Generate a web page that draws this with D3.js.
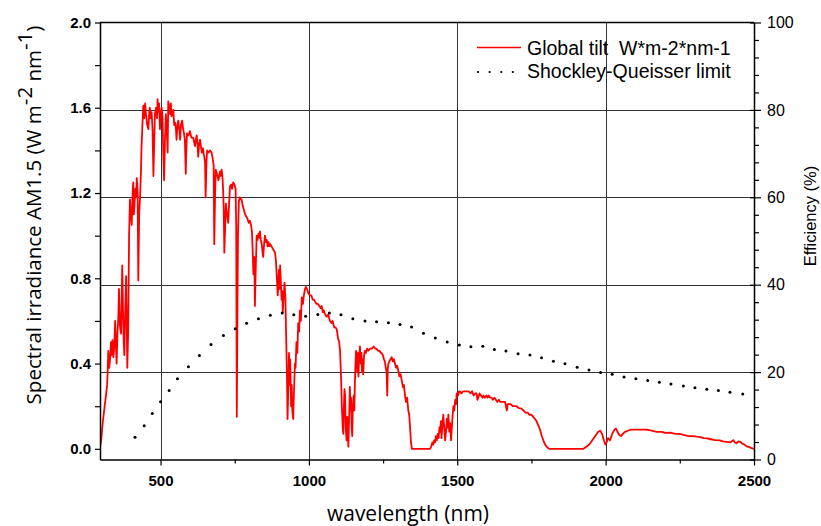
<!DOCTYPE html>
<html>
<head>
<meta charset="utf-8">
<script src="https://cdn.jsdelivr.net/npm/d3@7"></script>
<style>
  body { margin: 0; background: #fff; }
  svg { display: block; }
  .tick text { font-family: "Liberation Sans", Arial, sans-serif; }
</style>
</head>
<body>
<div id="chart"></div>
<script>
// spectral irradiance, global tilt AM1.5 (wavelength nm, W m-2 nm-1)
var irrWl = [
  295, 300, 305, 310, 316, 320, 322, 324, 327, 330,
  333, 335, 338, 341, 344, 347, 350, 352, 355, 358,
  360, 363, 367, 369, 371, 374, 376, 378, 381, 384,
  386, 388, 391, 394, 397, 400, 403, 406, 408, 410,
  412, 415, 418, 420, 423, 425, 428, 431, 434, 436,
  439, 442, 445, 448, 451, 455, 459, 462, 464, 467,
  470, 473, 476, 479, 481, 485, 488, 490, 493, 495,
  498, 501, 504, 507, 509, 512, 515, 518, 521, 524,
  526, 530, 532, 535, 537, 540, 543, 546, 549, 552,
  554, 557, 560, 563, 566, 569, 573, 576, 579, 582,
  585, 587, 589, 594, 599, 604, 610, 613, 616, 619,
  622, 625, 627, 630, 633, 636, 639, 643, 646, 650,
  652, 655, 657, 662, 667, 672, 676, 679, 681, 684,
  686, 690, 695, 700, 703, 706, 709, 711, 713, 715,
  718, 720, 724, 728, 731, 734, 738, 741, 745, 749,
  753, 755, 757, 759, 761, 764, 767, 770, 773, 777,
  781, 785, 789, 793, 797, 801, 805, 808, 810, 813,
  816, 818, 821, 824, 827, 830, 833, 835, 838, 841,
  844, 846, 849, 852, 855, 858, 861, 864, 867, 870,
  874, 878, 882, 886, 889, 892, 895, 897, 899, 901,
  903, 905, 908, 910, 912, 915, 918, 921, 923, 926,
  928, 930, 933, 935, 937, 940, 942, 944, 947, 950,
  953, 955, 958, 961, 964, 967, 970, 973, 976, 980,
  983, 987, 990, 994, 998, 1003, 1008, 1013, 1017, 1021,
  1026, 1030, 1035, 1040, 1043, 1047, 1050, 1055, 1060, 1065,
  1071, 1076, 1080, 1085, 1090, 1094, 1098, 1102, 1105, 1108,
  1111, 1114, 1116, 1118, 1120, 1122, 1124, 1127, 1129, 1131,
  1133, 1135, 1138, 1140, 1142, 1144, 1146, 1148, 1151, 1153,
  1155, 1157, 1159, 1161, 1163, 1165, 1167, 1169, 1172, 1175,
  1177, 1179, 1181, 1183, 1186, 1189, 1192, 1196, 1200, 1206,
  1212, 1218, 1224, 1228, 1233, 1238, 1242, 1245, 1249, 1253,
  1256, 1259, 1262, 1264, 1266, 1268, 1271, 1275, 1279, 1283,
  1287, 1290, 1294, 1297, 1301, 1305, 1309, 1313, 1317, 1320,
  1324, 1327, 1331, 1335, 1338, 1341, 1344, 1347, 1380, 1408,
  1412, 1416, 1419, 1422, 1425, 1428, 1431, 1434, 1437, 1440,
  1442, 1445, 1447, 1450, 1453, 1456, 1459, 1462, 1465, 1468,
  1470, 1473, 1476, 1479, 1481, 1484, 1487, 1490, 1493, 1496,
  1498, 1503, 1506, 1509, 1514, 1520, 1526, 1532, 1538, 1545,
  1550, 1555, 1560, 1565, 1568, 1571, 1575, 1580, 1585, 1588,
  1593, 1598, 1602, 1606, 1610, 1616, 1620, 1625, 1630, 1635,
  1640, 1645, 1650, 1655, 1661, 1664, 1667, 1670, 1675, 1680,
  1687, 1693, 1700, 1708, 1715, 1723, 1730, 1737, 1743, 1750,
  1756, 1762, 1767, 1773, 1779, 1785, 1790, 1796, 1801, 1810,
  1870, 1925, 1935, 1945, 1955, 1965, 1975, 1982, 1988, 1994,
  1999, 2003, 2008, 2015, 2022, 2030, 2035, 2040, 2046, 2052,
  2058, 2065, 2075, 2085, 2100, 2120, 2138, 2155, 2172, 2190,
  2200, 2217, 2235, 2250, 2262, 2280, 2295, 2307, 2320, 2330,
  2341, 2355, 2369, 2385, 2395, 2408, 2420, 2430, 2436, 2441,
  2447, 2453, 2460, 2468, 2475, 2485, 2492, 2500];
var irrVal = [
  0.00, 0.04, 0.12, 0.18, 0.25, 0.30, 0.37, 0.46, 0.38, 0.42,
  0.50, 0.44, 0.51, 0.43, 0.48, 0.60, 0.47, 0.40, 0.55, 0.62,
  0.75, 0.58, 0.54, 0.70, 0.86, 0.62, 0.50, 0.44, 0.65, 0.81,
  0.60, 0.38, 0.55, 1.00, 1.17, 1.10, 1.05, 1.20, 1.25, 1.10,
  1.14, 1.22, 1.18, 1.27, 1.20, 0.79, 1.10, 1.18, 1.30, 1.42,
  1.52, 1.61, 1.55, 1.62, 1.57, 1.52, 1.50, 1.58, 1.60, 1.55,
  1.58, 1.50, 1.28, 1.45, 1.57, 1.60, 1.55, 1.64, 1.58, 1.62,
  1.50, 1.58, 1.60, 1.55, 1.40, 1.26, 1.45, 1.57, 1.50, 1.39,
  1.63, 1.60, 1.57, 1.62, 1.56, 1.58, 1.59, 1.52, 1.53, 1.50,
  1.45, 1.52, 1.54, 1.50, 1.45, 1.52, 1.54, 1.50, 1.48, 1.45,
  1.29, 1.40, 1.48, 1.47, 1.49, 1.46, 1.46, 1.44, 1.42, 1.45,
  1.47, 1.42, 1.37, 1.43, 1.45, 1.42, 1.39, 1.41, 1.38, 1.35,
  1.18, 1.35, 1.40, 1.39, 1.40, 1.39, 1.36, 1.33, 0.96, 1.20,
  1.31, 1.29, 1.26, 1.30, 1.28, 1.31, 1.27, 1.21, 1.12, 0.92,
  1.05, 1.15, 1.10, 1.06, 1.15, 1.23, 1.24, 1.22, 1.25, 1.24,
  1.22, 1.05, 0.15, 0.60, 1.00, 1.16, 1.18, 1.17, 1.17, 1.14,
  1.12, 1.10, 1.09, 1.08, 1.06, 1.07, 1.05, 1.02, 0.95, 0.82,
  0.90, 0.67, 0.85, 1.00, 0.98, 1.01, 0.99, 1.02, 0.98, 0.96,
  0.92, 0.90, 0.96, 1.00, 0.97, 0.98, 0.95, 0.97, 0.95, 0.96,
  0.95, 0.94, 0.93, 0.92, 0.88, 0.80, 0.72, 0.78, 0.84, 0.75,
  0.86, 0.80, 0.70, 0.74, 0.64, 0.72, 0.78, 0.70, 0.55, 0.35,
  0.14, 0.25, 0.45, 0.30, 0.42, 0.20, 0.30, 0.18, 0.14, 0.28,
  0.40, 0.38, 0.50, 0.45, 0.59, 0.55, 0.65, 0.60, 0.71, 0.68,
  0.72, 0.75, 0.76, 0.75, 0.73, 0.72, 0.72, 0.70, 0.70, 0.69,
  0.68, 0.68, 0.67, 0.66, 0.67, 0.64, 0.65, 0.63, 0.62, 0.63,
  0.60, 0.59, 0.60, 0.57, 0.57, 0.56, 0.52, 0.50, 0.46, 0.35,
  0.20, 0.10, 0.07, 0.20, 0.28, 0.25, 0.10, 0.04, 0.15, 0.08,
  0.01, 0.12, 0.29, 0.18, 0.24, 0.10, 0.06, 0.20, 0.25, 0.18,
  0.31, 0.40, 0.46, 0.42, 0.36, 0.45, 0.34, 0.42, 0.48, 0.40,
  0.45, 0.36, 0.42, 0.35, 0.44, 0.46, 0.45, 0.47, 0.46, 0.47,
  0.47, 0.48, 0.47, 0.47, 0.46, 0.46, 0.45, 0.45, 0.44, 0.42,
  0.41, 0.38, 0.36, 0.25, 0.38, 0.40, 0.41, 0.42, 0.43, 0.41,
  0.42, 0.40, 0.38, 0.39, 0.37, 0.34, 0.35, 0.32, 0.29, 0.30,
  0.25, 0.22, 0.24, 0.18, 0.16, 0.10, 0.03, 0.00, 0.00, 0.00,
  0.01, 0.03, 0.02, 0.04, 0.03, 0.06, 0.04, 0.07, 0.05, 0.10,
  0.08, 0.13, 0.05, 0.12, 0.16, 0.10, 0.04, 0.08, 0.14, 0.10,
  0.16, 0.08, 0.12, 0.04, 0.08, 0.15, 0.20, 0.18, 0.23, 0.21,
  0.26, 0.25, 0.27, 0.27, 0.26, 0.27, 0.27, 0.27, 0.27, 0.26,
  0.27, 0.25, 0.26, 0.26, 0.23, 0.24, 0.26, 0.25, 0.24, 0.25,
  0.24, 0.25, 0.24, 0.25, 0.24, 0.24, 0.23, 0.24, 0.23, 0.22,
  0.23, 0.22, 0.22, 0.22, 0.22, 0.20, 0.18, 0.21, 0.21, 0.21,
  0.20, 0.20, 0.20, 0.19, 0.19, 0.18, 0.17, 0.17, 0.16, 0.16,
  0.15, 0.14, 0.13, 0.11, 0.09, 0.06, 0.04, 0.02, 0.01, 0.00,
  0.00, 0.00, 0.01, 0.02, 0.04, 0.06, 0.08, 0.085, 0.07, 0.04,
  0.02, 0.03, 0.05, 0.04, 0.07, 0.09, 0.095, 0.08, 0.065, 0.06,
  0.07, 0.08, 0.085, 0.09, 0.09, 0.09, 0.09, 0.085, 0.08, 0.08,
  0.075, 0.076, 0.07, 0.07, 0.065, 0.06, 0.06, 0.057, 0.055, 0.05,
  0.049, 0.045, 0.041, 0.04, 0.035, 0.033, 0.03, 0.041, 0.03, 0.026,
  0.035, 0.033, 0.025, 0.02, 0.012, 0.008, 0.003, 0.00];

// Shockley-Queisser limit (wavelength nm, efficiency %)
var sqWl = [414, 445, 472, 500, 529, 557, 594, 631, 670, 712, 752, 790, 830, 870, 910, 949,
  989, 1030, 1069, 1108, 1148, 1189, 1228, 1268, 1307, 1346, 1386, 1426, 1466, 1507, 1546,
  1586, 1625, 1664, 1705, 1745, 1784, 1824, 1863, 1904, 1944, 1983, 2022, 2062, 2102, 2142,
  2181, 2220, 2262, 2301, 2341, 2380, 2419, 2462];
var sqEff = [5.1, 7.7, 10.5, 13.2, 15.8, 18.5, 21.2, 23.8, 26.3, 28.4, 29.9, 31.2, 32.2, 33.0, 33.5, 33.1,
  32.8, 33.2, 33.5, 33.1, 32.2, 31.7, 31.5, 31.3, 30.9, 30.3, 28.9, 27.8, 26.9, 26.2, 25.8,
  25.9, 25.2, 24.8, 24.2, 23.9, 23.3, 22.5, 21.9, 21.1, 20.5, 19.9, 19.5, 18.9, 18.5, 18.1,
  17.7, 17.3, 16.8, 16.4, 16.1, 15.8, 15.4, 15.0];

var xTicks = [500, 1000, 1500, 2000, 2500];
var leftTicks = [0.0, 0.4, 0.8, 1.2, 1.6, 2.0];
var rightTicks = [0, 20, 40, 60, 80, 100];
var legendLabels = ["Global tilt  W*m-2*nm-1", "Shockley-Queisser limit"];

var W = 821, H = 526;
var plot = {left: 100, right: 754, top: 22.5, bottom: 459.5};

var x = d3.scaleLinear().domain([296, 2500]).range([plot.left, plot.right]);
var yL = d3.scaleLinear().domain([-0.05, 2.0]).range([plot.bottom, plot.top]);
var yR = d3.scaleLinear().domain([0, 100]).range([plot.bottom, plot.top]);

var svg = d3.select("#chart").append("svg")
    .attr("width", W)
    .attr("height", H);

// grid
var grid = svg.append("g").attr("stroke", "#333").attr("stroke-width", 1);
grid.selectAll(".vg").data(xTicks.slice(0, 4)).enter().append("line")
    .attr("x1", d => Math.round(x(d)) + 0.5).attr("x2", d => Math.round(x(d)) + 0.5)
    .attr("y1", plot.top).attr("y2", plot.bottom);
grid.selectAll(".hg").data(rightTicks.slice(1, 5)).enter().append("line")
    .attr("x1", plot.left).attr("x2", plot.right)
    .attr("y1", d => Math.round(yR(d)) + 0.5).attr("y2", d => Math.round(yR(d)) + 0.5);

// top frame
svg.append("line")
    .attr("x1", plot.left).attr("x2", plot.right)
    .attr("y1", plot.top).attr("y2", plot.top)
    .attr("stroke", "#000").attr("stroke-width", 1.5);

// curves
svg.append("clipPath").attr("id", "clip").append("rect")
    .attr("x", plot.left).attr("y", plot.top)
    .attr("width", plot.right - plot.left).attr("height", plot.bottom - plot.top);

var irr = irrWl.map((w, i) => [w, irrVal[i]]);
svg.append("path")
    .datum(irr)
    .attr("clip-path", "url(#clip)")
    .attr("fill", "none")
    .attr("stroke", "#ff0000")
    .attr("stroke-width", 1.8)
    .attr("stroke-linejoin", "round")
    .attr("d", d3.line().x(d => x(d[0])).y(d => yL(d[1])));

var sq = sqWl.map((w, i) => [w, sqEff[i]]);
svg.append("g").selectAll("circle").data(sq).enter().append("circle")
    .attr("cx", d => x(d[0]))
    .attr("cy", d => yR(d[1]))
    .attr("r", 1.5)
    .attr("fill", "#000");

// axes
var fmt = d3.format(".1f");
var leftAxis = d3.axisLeft(yL)
    .tickValues(d3.range(0, 10.5).map(i => i * 0.2))
    .tickSize(5).tickSizeOuter(0)
    .tickFormat(d => leftTicks.some(t => Math.abs(t - d) < 1e-6) ? fmt(d) : "");
var gl = svg.append("g")
    .attr("transform", "translate(" + plot.left + ",0)")
    .call(leftAxis);
gl.select(".domain").attr("stroke-width", 1.5);
gl.selectAll(".tick line").attr("stroke-width", 1.2);
gl.selectAll(".tick text")
    .attr("font-size", 15).attr("font-weight", "bold").attr("x", -9);

var bottomAxis = d3.axisBottom(x)
    .tickValues([500, 750, 1000, 1250, 1500, 1750, 2000, 2250, 2500])
    .tickSizeOuter(0)
    .tickFormat(d => xTicks.indexOf(d) >= 0 ? d : "");
var gb = svg.append("g")
    .attr("transform", "translate(0," + plot.bottom + ")")
    .call(bottomAxis);
gb.select(".domain").attr("stroke-width", 1.5);
gb.selectAll(".tick line")
    .attr("stroke-width", 1.2)
    .attr("y2", d => xTicks.indexOf(d) >= 0 ? 6 : 4);
gb.selectAll(".tick text")
    .attr("font-size", 15).attr("font-weight", "bold").attr("y", 16);

var rightAxis = d3.axisRight(yR)
    .tickValues(d3.range(0, 101, 4))
    .tickSize(5).tickSizeOuter(0)
    .tickFormat(d => rightTicks.indexOf(d) >= 0 ? d : "");
var gr = svg.append("g")
    .attr("transform", "translate(" + plot.right + ",0)")
    .call(rightAxis);
gr.select(".domain").attr("stroke-width", 1.5);
gr.selectAll(".tick line")
    .attr("stroke-width", 1.2)
    .attr("x1", d => rightTicks.indexOf(d) >= 0 ? -4 : 0)
    .attr("x2", d => rightTicks.indexOf(d) >= 0 ? 7 : 5);
gr.selectAll(".tick text")
    .attr("font-size", 16).attr("x", 13);

// axis titles
var yt = svg.append("text")
    .attr("transform", "translate(41,215) rotate(-90)")
    .attr("text-anchor", "middle")
    .attr("font-family", "'Open Sans', sans-serif")
    .attr("font-size", 20.5)
    .attr("fill", "#000");
yt.append("tspan").text("Spectral irradiance AM1.5 (W m");
yt.append("tspan").attr("dy", -9).text("-2");
yt.append("tspan").attr("dy", 9).text(" nm");
yt.append("tspan").attr("dy", -9).text("-1");
yt.append("tspan").attr("dy", 9).text(")");

svg.append("text")
    .attr("x", 408).attr("y", 521)
    .attr("text-anchor", "middle")
    .attr("font-family", "'Open Sans', sans-serif")
    .attr("font-size", 21)
    .text("wavelength (nm)");

svg.append("text")
    .attr("transform", "translate(816,216) rotate(-90)")
    .attr("text-anchor", "middle")
    .attr("font-family", "'Liberation Sans', Arial, sans-serif")
    .attr("font-size", 16.5)
    .text("Efficiency (%)");

// legend
var lg = svg.append("g").attr("font-family", "'Liberation Sans', Arial, sans-serif").attr("font-size", 19.5);
lg.append("line")
    .attr("x1", 477).attr("x2", 521).attr("y1", 47.5).attr("y2", 47.5)
    .attr("stroke", "#ff0000").attr("stroke-width", 1.5);
lg.append("text").attr("x", 527).attr("y", 55)
    .style("white-space", "pre")
    .text(legendLabels[0]);
lg.append("line")
    .attr("x1", 478).attr("x2", 516).attr("y1", 72).attr("y2", 72)
    .attr("stroke", "#000").attr("stroke-width", 2.2)
    .attr("stroke-linecap", "round")
    .attr("stroke-dasharray", "0.1,11.5");
lg.append("text").attr("x", 527).attr("y", 77.5)
    .text(legendLabels[1]);
</script>
</body>
</html>
